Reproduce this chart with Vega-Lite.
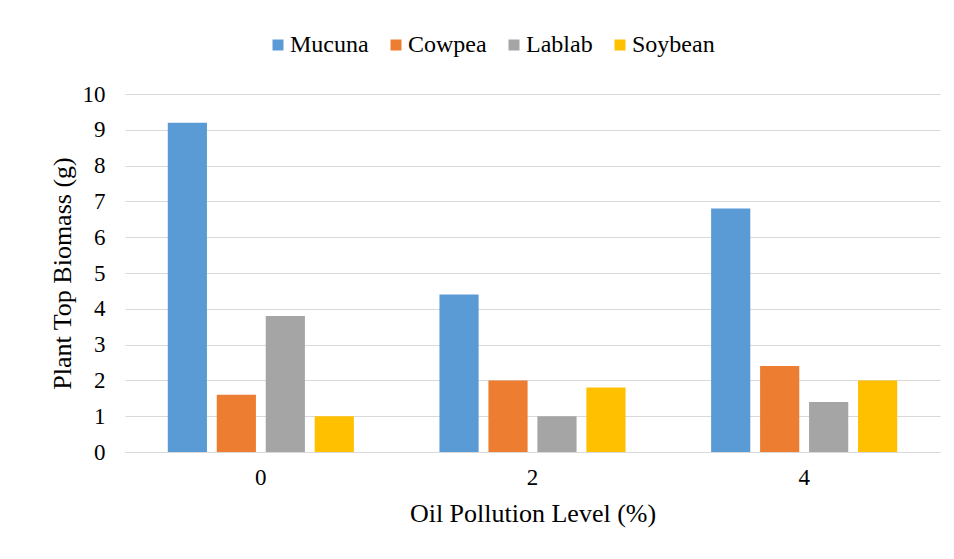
{
  "$schema": "https://vega.github.io/schema/vega-lite/v6.json",
  "width": 815,
  "height": 358,
  "autosize": {"type": "none"},
  "padding": {"left": 125, "top": 94, "right": 14, "bottom": 107},
  "background": "white",
  "data": {
    "values": [
      {"level": "0", "species": "Mucuna", "value": 9.2},
      {"level": "0", "species": "Cowpea", "value": 1.6},
      {"level": "0", "species": "Lablab", "value": 3.8},
      {"level": "0", "species": "Soybean", "value": 1.0},
      {"level": "2", "species": "Mucuna", "value": 4.4},
      {"level": "2", "species": "Cowpea", "value": 2.0},
      {"level": "2", "species": "Lablab", "value": 1.0},
      {"level": "2", "species": "Soybean", "value": 1.8},
      {"level": "4", "species": "Mucuna", "value": 6.8},
      {"level": "4", "species": "Cowpea", "value": 2.4},
      {"level": "4", "species": "Lablab", "value": 1.4},
      {"level": "4", "species": "Soybean", "value": 2.0}
    ]
  },
  "mark": {"type": "bar"},
  "encoding": {
    "x": {
      "field": "level",
      "type": "nominal",
      "sort": ["0", "2", "4"],
      "scale": {"paddingInner": 0.315, "paddingOuter": 0.1575},
      "axis": {
        "title": "Oil Pollution Level (%)",
        "labelAngle": 0,
        "ticks": false,
        "domainColor": "#D9D9D9",
        "domainWidth": 1,
        "labelPadding": 14,
        "titlePadding": 11
      }
    },
    "xOffset": {
      "field": "species",
      "type": "nominal",
      "sort": ["Mucuna", "Cowpea", "Lablab", "Soybean"],
      "scale": {"paddingInner": 0.2, "paddingOuter": 0}
    },
    "y": {
      "field": "value",
      "type": "quantitative",
      "scale": {"domain": [0, 10]},
      "axis": {
        "title": "Plant Top Biomass (g)",
        "values": [0, 1, 2, 3, 4, 5, 6, 7, 8, 9, 10],
        "ticks": false,
        "domain": false,
        "labelPadding": 20,
        "titlePadding": 7,
        "gridColor": "#D9D9D9",
        "gridWidth": 1
      }
    },
    "color": {
      "field": "species",
      "type": "nominal",
      "sort": ["Mucuna", "Cowpea", "Lablab", "Soybean"],
      "scale": {
        "domain": ["Mucuna", "Cowpea", "Lablab", "Soybean"],
        "range": ["#5B9BD5", "#ED7D31", "#A5A5A5", "#FFC000"]
      },
      "legend": {
        "title": null,
        "orient": "none",
        "direction": "horizontal",
        "legendX": 141,
        "legendY": -61,
        "symbolType": "square",
        "symbolSize": 121,
        "symbolStrokeWidth": 0,
        "labelOffset": 0,
        "columnPadding": 15,
        "padding": 0,
        "labelFont": "Liberation Serif",
        "labelFontSize": 24,
        "labelColor": "#000000",
        "labelLimit": 300
      }
    }
  },
  "config": {
    "view": {"stroke": null},
    "font": "Liberation Serif",
    "legend": {
      "labelFont": "Liberation Serif",
      "labelFontSize": 24,
      "labelColor": "#000000"
    },
    "axis": {
      "labelFont": "Liberation Serif",
      "titleFont": "Liberation Serif",
      "labelFontSize": 23,
      "titleFontSize": 26,
      "titleFontWeight": "normal",
      "labelColor": "#000000",
      "titleColor": "#000000"
    }
  }
}
